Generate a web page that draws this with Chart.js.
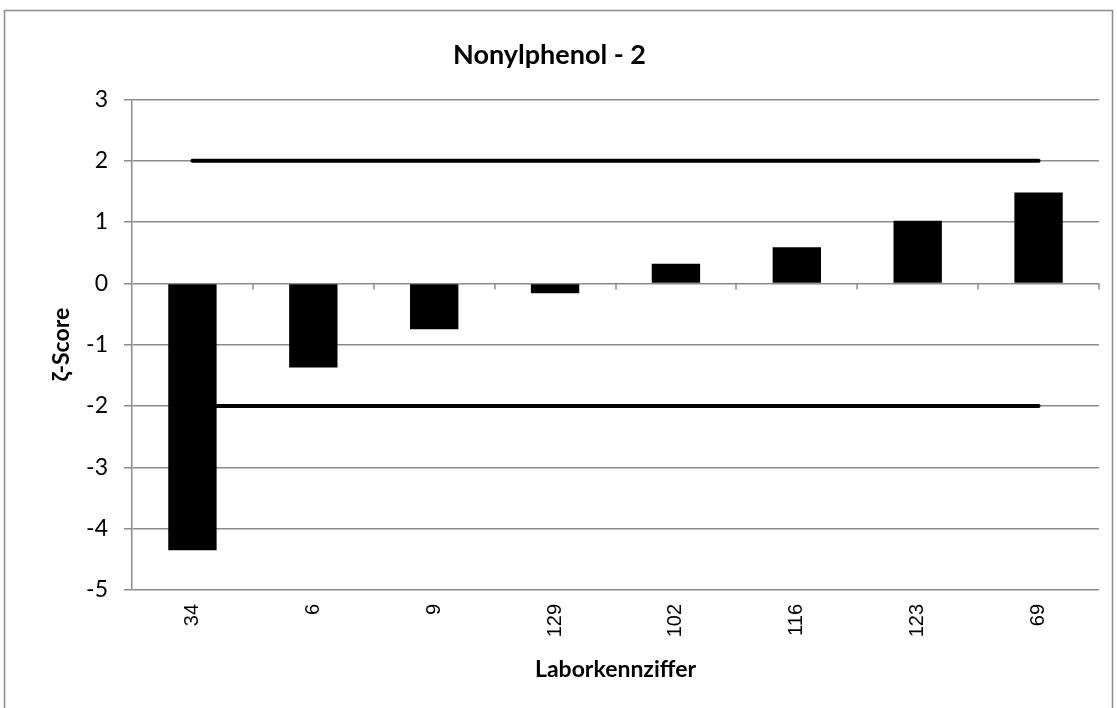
<!DOCTYPE html>
<html>
<head>
<meta charset="utf-8">
<script src="https://cdn.jsdelivr.net/npm/chart.js@4/dist/chart.umd.min.js"></script>
<style>
  html, body { margin: 0; padding: 0; background: #fff; }
</style>
</head>
<body>
<canvas id="zPlot" width="1117" height="708"></canvas>
<script>
// lab codes (x axis) and their zeta scores
let labCodes = ['34', '6', '9', '129', '102', '116', '123', '69'];
let zetaScores = [-4.35, -1.37, -0.75, -0.16, 0.32, 0.59, 1.02, 1.48];
// limit lines at +2 / -2
let upperLimit = [2, 2, 2, 2, 2, 2, 2, 2];
let lowerLimit = [-2, -2, -2, -2, -2, -2, -2, -2];
let yMin = -5, yMax = 3, yStep = 1;

let gridGray = '#8c8c8c';

// frame around the whole chart + small tick marks on the zero line
let extras = {
    id: 'extras',
    beforeDraw(chart) {
        let ctx = chart.ctx;
        ctx.save();
        ctx.strokeStyle = gridGray;
        ctx.lineWidth = 1.5;
        ctx.strokeRect(4.5, 10.5, 1108, 720);
        ctx.restore();
    },
    afterDraw(chart) {
        let xs = chart.scales.x;
        let y0 = chart.scales.y.getPixelForValue(0);
        let half = xs.width / labCodes.length / 2;
        let ctx = chart.ctx;
        ctx.save();
        ctx.strokeStyle = gridGray;
        ctx.lineWidth = 1.5;
        for (let i = 0; i < labCodes.length; i++) {
            let px = Math.round(xs.getPixelForValue(i) + half);
            ctx.beginPath();
            ctx.moveTo(px, y0);
            ctx.lineTo(px, y0 + 6);
            ctx.stroke();
        }
        ctx.restore();
    }
};

let plot = document.getElementById('zPlot').getContext('2d');

new Chart(plot, {
    type: 'bar',
    data: {
        labels: labCodes,
        datasets: [
            {
                label: 'zeta',
                data: zetaScores,
                backgroundColor: '#000',
                borderWidth: 0,
                barPercentage: 0.4,
                categoryPercentage: 1,
                order: 0
            },
            {
                type: 'line',
                label: 'upper',
                data: upperLimit,
                borderColor: '#000',
                borderWidth: 4,
                borderCapStyle: 'round',
                pointRadius: 0,
                fill: false,
                order: 1
            },
            {
                type: 'line',
                label: 'lower',
                data: lowerLimit,
                borderColor: '#000',
                borderWidth: 4,
                borderCapStyle: 'round',
                pointRadius: 0,
                fill: false,
                order: 1
            }
        ]
    },
    options: {
        responsive: false,
        animation: false,
        devicePixelRatio: 1,
        layout: { padding: { left: 0, right: 18, top: 0, bottom: 0 } },
        scales: {
            x: {
                afterFit: function(scale) { scale.height = 118; },
                grid: { display: false, drawTicks: false },
                border: { display: false },
                ticks: {
                    color: '#000',
                    font: { family: 'Liberation Sans', size: 20 },
                    minRotation: 90,
                    maxRotation: 90,
                    padding: 14
                },
                title: {
                    display: true,
                    text: 'Laborkennziffer',
                    color: '#000',
                    font: { family: 'Lato', size: 23, weight: 'bold' },
                    padding: { top: 0, bottom: 25 }
                }
            },
            y: {
                min: yMin,
                max: yMax,
                afterFit: function(scale) { scale.width = 132; },
                grid: { color: gridGray, lineWidth: 1.5, tickLength: 8 },
                border: { color: gridGray, width: 1.5 },
                ticks: {
                    stepSize: yStep,
                    color: '#000',
                    font: { family: 'Lato', size: 23 },
                    padding: 16
                },
                title: {
                    display: true,
                    text: 'ζ-Score',
                    color: '#000',
                    font: { family: 'Lato', size: 23, weight: 'bold' },
                    padding: { top: 48, bottom: 0 }
                }
            }
        },
        plugins: {
            legend: { display: false },
            tooltip: { enabled: false },
            title: {
                display: true,
                text: 'Nonylphenol - 2',
                color: '#000',
                font: { family: 'Lato', size: 27, weight: 'bold' },
                padding: { top: 39, bottom: 28 }
            }
        }
    },
    plugins: [extras]
});
</script>
</body>
</html>
